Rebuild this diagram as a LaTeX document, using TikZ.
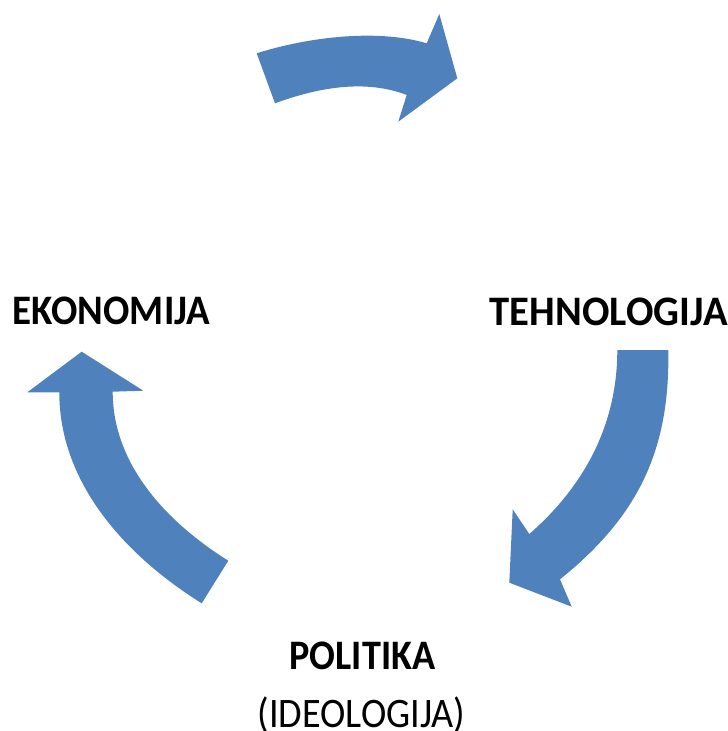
\documentclass[tikz,border=0pt]{standalone}
\usepackage{fontspec}
\setmainfont{Carlito}
\newfontfamily\labelfont[FakeStretch=0.91]{Carlito}
\begin{document}
\begin{tikzpicture}[x=1pt,y=-1pt,
  cyclearrow/.style={fill=arrowblue,draw=none},
  termlabel/.style={font=\labelfont\bfseries\fontsize{42}{50}\selectfont,inner sep=0pt,anchor=base},
  sublabel/.style={font=\labelfont\fontsize{42}{50}\selectfont,inner sep=0pt,anchor=base}]
\definecolor{arrowblue}{HTML}{4F81BD}
\useasboundingbox (0,0) rectangle (728,731);

% top arrow, pointing right
\fill[cyclearrow] (256.7,53.3) .. controls (305,38) and (375,28) .. (426.7,43.3)
  -- (439.3,14) -- (457.3,78.3) -- (398.3,121.7) -- (406.7,95)
  .. controls (364.7,78.8) and (317.3,87.8) .. (275,103.3) -- cycle;

% right arrow, pointing down-left
\fill[cyclearrow] (617.3,350) -- (668.3,350)
  .. controls (670,448) and (640,515) .. (560,579.3)
  -- (571.7,606.7) -- (509.3,582.7) -- (512.7,509.3) -- (529.3,534)
  .. controls (585,485.4) and (617.3,424) .. (617.3,350) -- cycle;

% left arrow, pointing up
\fill[cyclearrow] (201.7,603.3) .. controls (124.9,555.3) and (59.3,482.8) .. (59.3,392.3)
  -- (27.3,392.3) -- (81.7,351.7) -- (143.3,390.7) -- (112.7,391.7)
  .. controls (112.7,464.5) and (166.6,522.1) .. (228.3,560.7) -- cycle;

\node[termlabel] (eko) at (111.5,324.8) {\scalebox{1.02}[1]{EKONOMIJA}};
\node[termlabel] (teh) at (608.7,325.7) {\scalebox{1.064}[1]{TEHNOLOGIJA}};
\node[termlabel] (pol) at (362.5,669.3) {POLITIKA};
\node[sublabel] (ideo) at (361.5,727) {(IDEOLOGIJA)};
\end{tikzpicture}
\end{document}
